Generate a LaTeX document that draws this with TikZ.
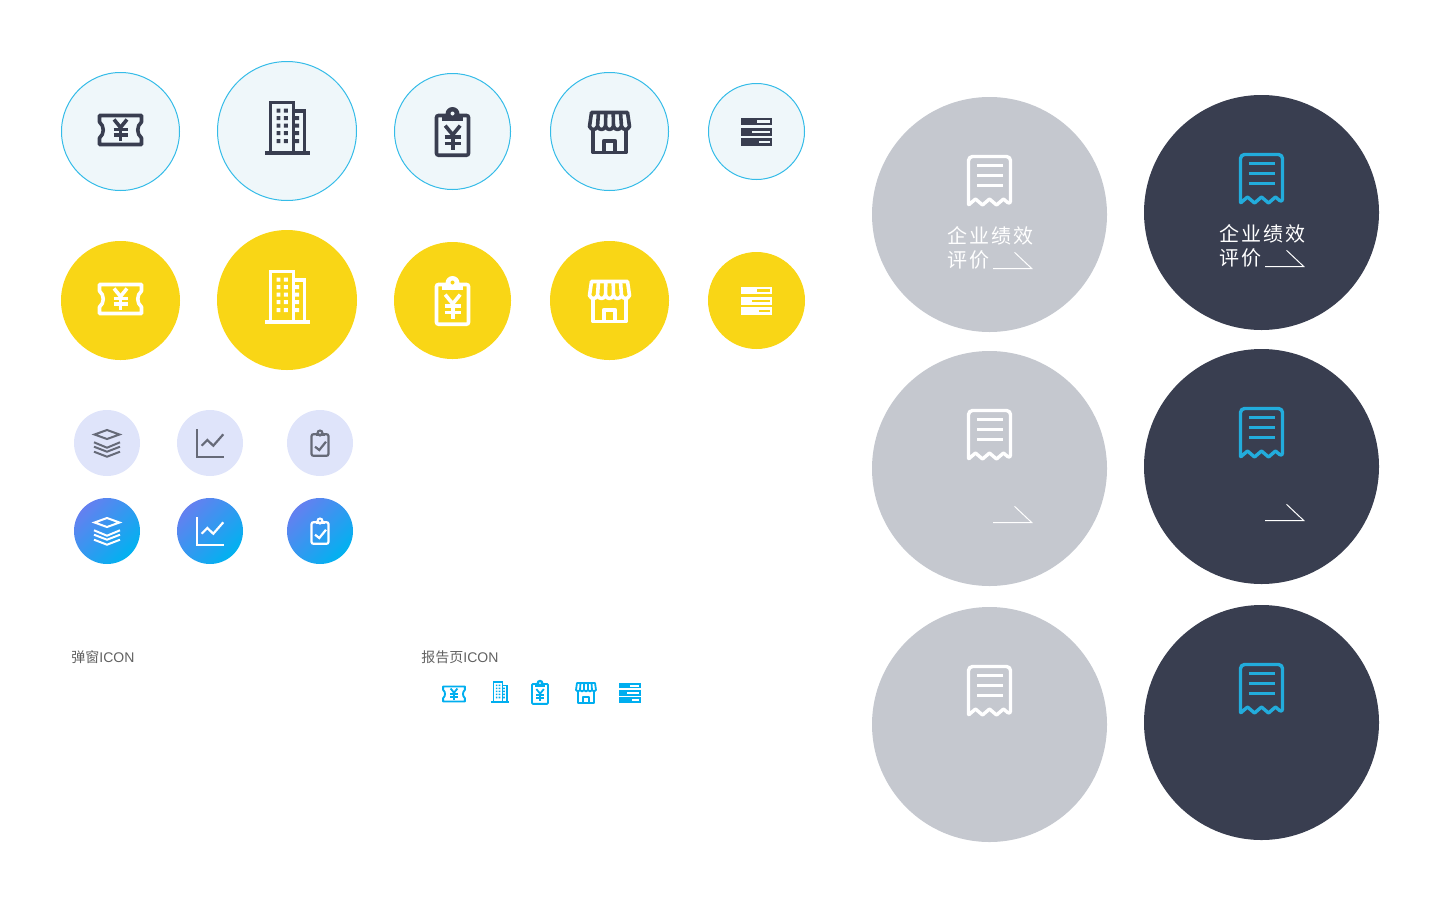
\documentclass[tikz,border=0pt]{standalone}
\usepackage{fontspec}
\setmainfont{Liberation Sans}
\newfontfamily\cjkfont{Noto Sans CJK SC}
\newfontfamily\cjkwide[LetterSpace=10.5]{Noto Sans CJK SC}
\usepackage{tikz}

\definecolor{paleblue}{HTML}{EFF7FA}
\definecolor{ringblue}{HTML}{35BCE8}
\definecolor{inkdark}{HTML}{393E50}
\definecolor{sunyellow}{HTML}{F9D616}
\definecolor{palelilac}{HTML}{DFE4FA}
\definecolor{inkgrey}{HTML}{666A78}
\definecolor{gradstart}{HTML}{6480F0}
\definecolor{gradend}{HTML}{00B2F0}
\definecolor{gradmid}{HTML}{4390EE}
\definecolor{softgrey}{HTML}{C5C8CF}
\definecolor{brightblue}{HTML}{00AEEF}
\definecolor{receiptblue}{HTML}{22ACDC}

\tikzset{
  ring/.style={fill=paleblue,draw=ringblue,line width=0.5pt},
  gradball/.style={shading=axis,left color=gradstart,right color=gradend,shading angle=45},
  bigword/.style={inner sep=0pt,anchor=west,text=white,font=\cjkwide\fontsize{10}{12}\selectfont},
  captionword/.style={inner sep=0pt,anchor=west,text=black!62,font=\fontsize{7}{9}\selectfont}
}

% yen sign, drawn with the line width in force
\newcommand{\yenmark}[3]{
  \begin{scope}[shift={(#1,#2)},scale=#3]
  \draw (-6.5,-10.5) -- (0,-2.5) -- (6.5,-10.5);
  \draw (0,-2.5) -- (0,11);
  \draw (-7,-0.5) -- (7,-0.5);
  \draw (-7,5) -- (7,5);
  \end{scope}
}
% x, y, scale, colour
\newcommand{\ticketicon}[4]{
  \begin{scope}[shift={(#1,#2)},scale=#3,color=#4,line width=#3*1.8pt,line join=round]
  \draw (-21,-14.5) -- (21,-14.5) -- (21,-8) .. controls (16,-4) and (16,4) .. (21,8) -- (21,14.5)
    -- (-21,14.5) -- (-21,8) .. controls (-16,4) and (-16,-4) .. (-21,-8) -- cycle;
  \yenmark{0}{0}{1}
  \end{scope}
}
\newcommand{\buildingicon}[4]{
  \begin{scope}[shift={(#1,#2)},scale=#3,color=#4,line width=#3*1.8pt]
  \draw (-16.5,20) -- (-16.5,-28.5) -- (6.5,-28.5) -- (6.5,20);
  \draw (6.5,-20.2) -- (17.5,-20.2) -- (17.5,20);
  \fill (-22,19.7) rectangle (23,24);
  \fill (-10.5,-22.5) rectangle (-6.7,-18.5) (-3.2,-22.5) rectangle (0.8,-18.5);
  \fill (-10.5,-15) rectangle (-6.7,-11) (-3.2,-15) rectangle (0.8,-11);
  \fill (-10.5,-7.4) rectangle (-6.7,-3.4) (-3.2,-7.4) rectangle (0.8,-3.4);
  \fill (-10.5,0) rectangle (-6.7,4) (-3.2,0) rectangle (0.8,4);
  \fill (-10.5,8) rectangle (-6.7,12) (-3.2,8) rectangle (0.8,12);
  \fill (7,-15) rectangle (12,-11) (7,-7.4) rectangle (12,-3.4);
  \fill (7,0) rectangle (12,4) (7,8) rectangle (12,12);
  \end{scope}
}
% x, y, scale, colour, colour behind
\newcommand{\clipicon}[5]{
  \begin{scope}[shift={(#1,#2)},scale=#3,color=#4,line width=#3*1.8pt]
  \draw[rounded corners=#3*1pt] (-16,-16) rectangle (16,23.7);
  \fill (-11,-17.5) rectangle (10.5,-10.5);
  \fill (0,-17.5) circle (7);
  \fill[#5] (0,-18) circle (2);
  \yenmark{0.2}{6.2}{1.15}
  \end{scope}
}
\newcommand{\storeicon}[4]{
  \begin{scope}[shift={(#1,#2)},scale=#3,color=#4,line width=#3*1.8pt,line join=round]
  \draw (-18,-19) -- (18,-19) -- (20,-5) .. controls (18,-1) and (14,-1) .. (12,-5)
    .. controls (10,-1) and (6,-1) .. (4,-5) .. controls (2,-1) and (-2,-1) .. (-4,-5)
    .. controls (-6,-1) and (-10,-1) .. (-12,-5) .. controls (-14,-1) and (-18,-1) .. (-20,-5) -- cycle;
  \draw (-11,-19) -- (-12,-5);
  \draw (-3.7,-19) -- (-4,-5);
  \draw (3.7,-19) -- (4,-5);
  \draw (11,-19) -- (12,-5);
  \draw (-16.3,-3) -- (-16.3,21) -- (16.3,21) -- (16.3,-3);
  \draw (-5.7,21) -- (-5.7,9.3) -- (5.7,9.3) -- (5.7,21);
  \end{scope}
}
\newcommand{\servericon}[5]{
  \begin{scope}[shift={(#1,#2)},scale=#3,color=#4]
  \fill (-15.8,-13.8) rectangle (15.5,-6.2);
  \fill (-15.8,-3.2) rectangle (15.5,4.2);
  \fill (-15.8,6.8) rectangle (15.5,14.5);
  \fill[#5] (0.2,-11.2) rectangle (13.5,-8.8);
  \fill[#5] (-4.8,-0.8) rectangle (13.5,1.8);
  \fill[#5] (2.5,9.2) rectangle (13.5,11.5);
  \end{scope}
}
% x, y, colour
\newcommand{\layersicon}[3]{
  \begin{scope}[shift={(#1,#2)},color=#3,line width=1pt]
  \draw (-12.5,-8.5) -- (0,-13) -- (12.5,-8.5) -- (0,-4) -- cycle;
  \draw (-13,-0.7) -- (0,4.7) -- (13,-0.7);
  \draw (-13,3.7) -- (0,8.7) -- (13,3.7);
  \draw (-13,8.7) -- (0,13.7) -- (13,8.7);
  \end{scope}
}
\newcommand{\charticon}[3]{
  \begin{scope}[shift={(#1,#2)},color=#3,line width=1.1pt]
  \draw (-13.3,-14) -- (-13.3,13.7) -- (14,13.7);
  \draw (-8.3,2.7) -- (-2.7,-3) -- (3.3,2.7) -- (13.3,-8.7);
  \end{scope}
}
% x, y, colour, colour behind
\newcommand{\checkicon}[4]{
  \begin{scope}[shift={(#1,#2)},color=#3,line width=1.1pt]
  \draw[rounded corners=1pt] (-8.5,-8.8) rectangle (8.5,12.8);
  \fill (0,-10) circle (3.6);
  \fill (-4.5,-10) rectangle (4.5,-7.5);
  \fill[#4] (0,-10.2) circle (1.1);
  \draw (-5,3.7) -- (-0.7,7) -- (6,-1.3);
  \end{scope}
}
% x, y, colour
\newcommand{\receipticon}[3]{
  \begin{scope}[shift={(#1,#2)},color=#3,line width=1.7pt,line join=round]
  \draw[rounded corners=2pt] (-21,-9.5) -- (-21,-58) -- (21,-58) -- (21,-9.5)
    [rounded corners=0.3pt] -- (14,-15.5) -- (7,-9.5) -- (0,-15.5) -- (-7,-9.5) -- (-14,-15.5) -- cycle;
  \draw (-12.5,-48.8) -- (13,-48.8);
  \draw (-12.5,-38.8) -- (13,-38.8);
  \draw (-12.5,-28.8) -- (13,-28.8);
  \end{scope}
}
\newcommand{\slashmark}[2]{
  \draw[white,line width=0.5pt] ([shift={(#1,#2)}]3.5,54) -- ([shift={(#1,#2)}]42.2,54) -- ([shift={(#1,#2)}]25,37.8);
}

\begin{document}
\begin{tikzpicture}[x=0.5pt,y=-0.5pt]
  \useasboundingbox (0,0) rectangle (1440,900);
  % top row
  \draw[ring] (120.5,131.5) circle (59);
  \draw[ring] (287,131) circle (69.5);
  \draw[ring] (452.5,131.5) circle (58);
  \draw[ring] (609.5,131.5) circle (59);
  \draw[ring] (756.5,131.5) circle (48);
  \ticketicon{120.5}{130}{1}{inkdark}
  \buildingicon{287}{131}{1}{inkdark}
  \clipicon{452.5}{131.5}{1}{inkdark}{paleblue}
  \storeicon{609.5}{131.5}{1}{inkdark}
  \servericon{756.5}{131.5}{1}{inkdark}{paleblue}
  % yellow row
  \fill[sunyellow] (120.5,300.5) circle (59.5);
  \fill[sunyellow] (287,300) circle (70);
  \fill[sunyellow] (452.5,300.5) circle (58.5);
  \fill[sunyellow] (609.5,300.5) circle (59.5);
  \fill[sunyellow] (756.5,300.5) circle (48.5);
  \ticketicon{120.5}{299}{1}{white}
  \buildingicon{287}{300}{1}{white}
  \clipicon{452.5}{300.5}{1}{white}{sunyellow}
  \storeicon{609.5}{300.5}{1}{white}
  \servericon{756.5}{300.5}{1}{white}{sunyellow}
  % small discs
  \fill[palelilac] (107,443) circle (33);
  \fill[palelilac] (210,443) circle (33);
  \fill[palelilac] (320,443) circle (33);
  \layersicon{107}{443}{inkgrey}
  \charticon{210}{443}{inkgrey}
  \checkicon{320}{443}{inkgrey}{palelilac}
  \shade[gradball] (107,531) circle (33);
  \shade[gradball] (210,531) circle (33);
  \shade[gradball] (320,531) circle (33);
  \layersicon{107}{531}{white}
  \charticon{210}{531}{white}
  \checkicon{320}{531}{white}{gradmid}
  % captions
  \node[captionword] (popcaption) at (71,657) {{\cjkfont 弹窗}ICON};
  \node[captionword] (reportcaption) at (421,657) {{\cjkfont 报告页}ICON};
  % report icons
  \ticketicon{454}{694}{0.52}{brightblue}
  \buildingicon{500}{693.5}{0.4}{brightblue}
  \clipicon{540}{692}{0.5}{brightblue}{white}
  \storeicon{586}{692.5}{0.5}{brightblue}
  \servericon{630}{692.7}{0.7}{brightblue}{white}
  % big discs
  \fill[softgrey] (989.5,214.5) circle (117.5);
  \fill[softgrey] (989.5,468.5) circle (117.5);
  \fill[softgrey] (989.5,724.5) circle (117.5);
  \fill[inkdark] (1261.5,212.5) circle (117.5);
  \fill[inkdark] (1261.5,466.5) circle (117.5);
  \fill[inkdark] (1261.5,722.5) circle (117.5);
  \receipticon{989.5}{214.5}{white}
  \receipticon{989.5}{468.5}{white}
  \receipticon{989.5}{724.5}{white}
  \receipticon{1261.5}{212.5}{receiptblue}
  \receipticon{1261.5}{466.5}{receiptblue}
  \receipticon{1261.5}{722.5}{receiptblue}
  \node[bigword] (greyhead) at (947,236) {企业绩效};
  \node[bigword] (greyrest) at (947,260) {评价};
  \node[bigword] (darkhead) at (1219,234) {企业绩效};
  \node[bigword] (darkrest) at (1219,258) {评价};
  \slashmark{989.5}{214.5}
  \slashmark{989.5}{468.5}
  \slashmark{1261.5}{212.5}
  \slashmark{1261.5}{466.5}
\end{tikzpicture}
\end{document}
